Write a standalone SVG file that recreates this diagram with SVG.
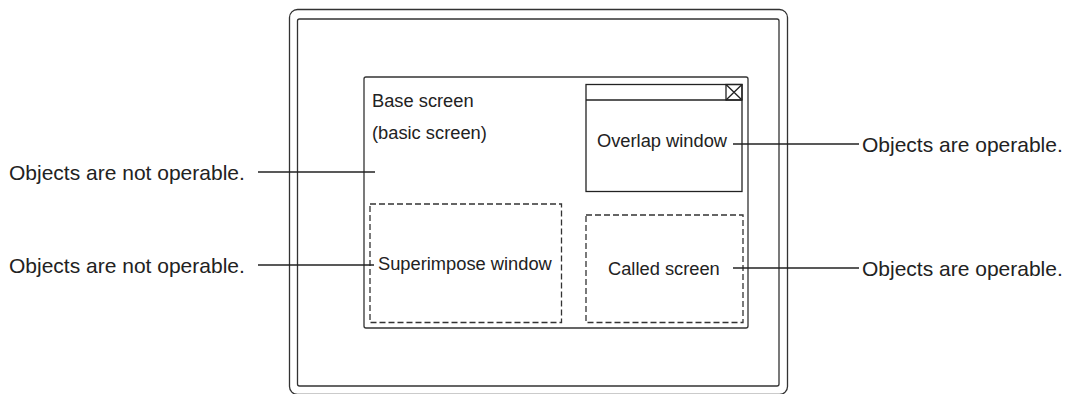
<svg xmlns="http://www.w3.org/2000/svg" width="1069" height="394" viewBox="0 0 1069 394">
<style>
.fr{fill:none;stroke:#333;stroke-width:1.3}
.ln{fill:none;stroke:#222;stroke-width:1.3}
.ds{fill:none;stroke:#333;stroke-width:1.3;stroke-dasharray:6,3}
.t{font-family:"Liberation Sans",Arial,sans-serif;fill:#222}
.in{font-size:18.3px}
.out{font-size:21px}
</style>
<rect width="1069" height="394" fill="#fff"/>
<g id="frame">
<rect class="fr" x="289.5" y="9.5" width="498" height="385" rx="8"/>
<rect class="fr" x="297.5" y="19" width="481.5" height="367" rx="2"/>
</g>
<g id="base-screen">
<rect class="fr" x="364" y="77" width="384" height="251" rx="2"/>
<text class="t in" x="372" y="107">Base screen</text>
<text class="t in" x="372" y="139">(basic screen)</text>
</g>
<g id="overlap-window">
<rect class="ln" x="586" y="84.5" width="156" height="107"/>
<line class="ln" x1="586" y1="100" x2="742" y2="100"/>
<rect class="ln" x="726" y="84.5" width="16" height="15.5"/>
<path class="ln" d="M726 84.5 L742 100 M742 84.5 L726 100"/>
<text class="t in" x="597" y="147">Overlap window</text>
</g>
<g id="superimpose-window">
<rect class="ds" x="370" y="204" width="191.5" height="118.5"/>
<text class="t in" x="378" y="269.5">Superimpose window</text>
</g>
<g id="called-screen">
<rect class="ds" x="586" y="215" width="157" height="107.5"/>
<text class="t in" x="608" y="274.5">Called screen</text>
</g>
<g id="labels">
<text class="t out" x="9" y="179.5">Objects are not operable.</text>
<text class="t out" x="9" y="273">Objects are not operable.</text>
<text class="t out" x="862" y="152">Objects are operable.</text>
<text class="t out" x="862" y="276">Objects are operable.</text>
</g>
<g id="connectors">
<line class="ln" x1="258" y1="172" x2="375" y2="172"/>
<line class="ln" x1="258" y1="265" x2="374" y2="265"/>
<line class="ln" x1="733" y1="144" x2="859" y2="144"/>
<line class="ln" x1="733" y1="268" x2="859" y2="268"/>
</g>
</svg>
